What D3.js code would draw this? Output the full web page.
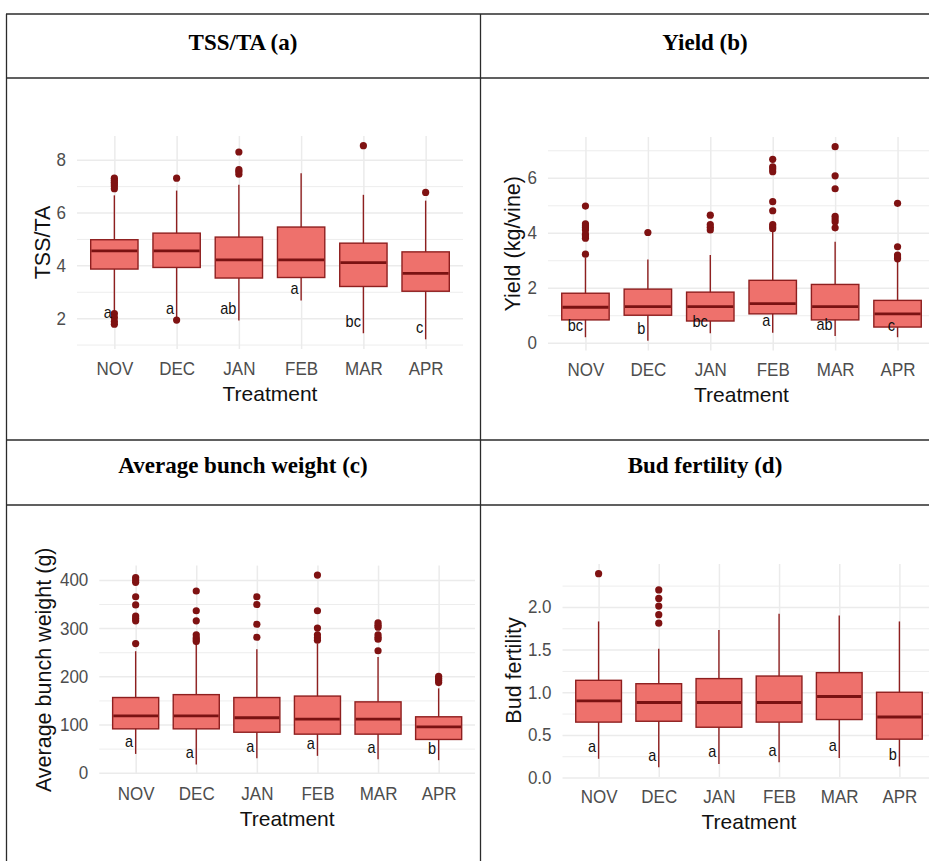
<!DOCTYPE html>
<html><head><meta charset="utf-8">
<script src="https://cdn.jsdelivr.net/npm/d3@7"></script>
<style>body{margin:0;background:#fff}svg{display:block}
.stretch{transform-box:fill-box;transform-origin:center;transform:scaleY(1.1)}</style>
</head><body>
<svg id="c" width="929" height="861"></svg>
<script>
// ---------- DATA ----------
const categories = ["NOV", "DEC", "JAN", "FEB", "MAR", "APR"];
const panelTitles = ["TSS/TA (a)", "Yield (b)", "Average bunch weight (c)", "Bud fertility (d)"];
const yLabels = ["TSS/TA", "Yield (kg/vine)", "Average bunch weight (g)", "Bud fertility"];
const xLabel = "Treatment";

// (a) TSS/TA
const tssLow  = [2.25, 2.0, 1.91, 2.67, 1.43, 1.2];
const tssQ1   = [3.86, 3.92, 3.52, 3.54, 3.2, 3.02];
const tssMed  = [4.55, 4.55, 4.21, 4.21, 4.1, 3.7];
const tssQ3   = [4.97, 5.22, 5.07, 5.45, 4.84, 4.51];
const tssHigh = [6.65, 6.83, 7.05, 7.49, 6.67, 6.45];
const tssOut  = [[6.9, 7.0, 7.08, 7.15, 7.22, 7.3, 2.17, 2.02, 1.87, 1.77], [7.3, 1.93], [7.45, 7.55, 7.62, 8.29], [], [8.53], [6.76]];
const tssLetters = ["a", "a", "ab", "a", "bc", "c"];
const tssTicks = [2, 4, 6, 8];
const tssMinor = [1, 3, 5, 7];

// (b) Yield
const yldLow  = [0.2, 0.07, 0.34, 0.36, 0.24, 0.2];
const yldQ1   = [0.83, 1.0, 0.79, 1.05, 0.83, 0.57];
const yldMed  = [1.29, 1.31, 1.31, 1.42, 1.31, 1.05];
const yldQ3   = [1.80, 1.95, 1.84, 2.27, 2.12, 1.54];
const yldHigh = [3.1, 3.03, 3.19, 4.1, 3.67, 2.95];
const yldOut  = [[3.22, 3.8, 3.88, 3.95, 4.1, 4.18, 4.25, 4.32, 4.97], [4.01], [4.1, 4.2, 4.3, 4.64],
                 [4.15, 4.22, 4.3, 4.8, 5.13, 6.22, 6.32, 6.4, 6.67], [4.18, 4.4, 4.5, 4.6, 5.6, 6.07, 7.13], [3.05, 3.12, 3.19, 3.49, 5.07]];
const yldLetters = ["bc", "b", "bc", "a", "ab", "c"];
const yldTicks = [0, 2, 4, 6];
const yldMinor = [1, 3, 5, 7];

// (c) Average bunch weight
const abwLow  = [39, 17, 30, 35, 28, 26];
const abwQ1   = [91, 91, 84, 80, 80, 69];
const abwMed  = [118, 118, 114, 111, 111, 95];
const abwQ3   = [156, 162, 156, 159, 147, 116];
const abwHigh = [252, 265, 256, 268, 240, 175];
const abwOut  = [[268, 315, 320, 325, 348, 365, 395, 400, 405], [272, 276, 280, 286, 315, 336, 377], [281, 308, 349, 365],
                 [275, 280, 286, 300, 336, 410], [253, 277, 281, 286, 302, 306, 311], [187, 192, 196, 200]];
const abwLetters = ["a", "a", "a", "a", "a", "b"];
const abwTicks = [0, 100, 200, 300, 400];
const abwMinor = [50, 150, 250, 350];

// (d) Bud fertility
const bfLow  = [0.22, 0.12, 0.16, 0.18, 0.23, 0.13];
const bfQ1   = [0.65, 0.66, 0.59, 0.65, 0.68, 0.45];
const bfMed  = [0.90, 0.88, 0.88, 0.88, 0.95, 0.71];
const bfQ3   = [1.14, 1.10, 1.16, 1.19, 1.23, 1.00];
const bfHigh = [1.83, 1.51, 1.73, 1.92, 1.90, 1.83];
const bfOut  = [[2.39], [1.81, 1.91, 2.01, 2.10, 2.20], [], [], [], []];
const bfLetters = ["a", "a", "a", "a", "a", "b"];
const bfTicks = [0, 0.5, 1.0, 1.5, 2.0];
const bfMinor = [0.25, 0.75, 1.25, 1.75, 2.25];

// ---------- LAYOUT ----------
const panels = [
  {low: tssLow, q1: tssQ1, med: tssMed, q3: tssQ3, high: tssHigh, out: tssOut, letters: tssLetters, ticks: tssTicks, minor: tssMinor, fmt: d3.format("d"),
   title: panelTitles[0], ylab: yLabels[0], left: 77, right: 463, top: 136, bottom: 349, ylabX: 42, titleX: 243, titleY: 50},
  {low: yldLow, q1: yldQ1, med: yldMed, q3: yldQ3, high: yldHigh, out: yldOut, letters: yldLetters, ticks: yldTicks, minor: yldMinor, fmt: d3.format("d"),
   title: panelTitles[1], ylab: yLabels[1], left: 548, right: 935, top: 137, bottom: 350.5, ylabX: 512, titleX: 705, titleY: 50},
  {low: abwLow, q1: abwQ1, med: abwMed, q3: abwQ3, high: abwHigh, out: abwOut, letters: abwLetters, ticks: abwTicks, minor: abwMinor, fmt: d3.format("d"),
   title: panelTitles[2], ylab: yLabels[2], left: 99.3, right: 475, top: 565.6, bottom: 774, ylabX: 43, titleX: 243, titleY: 473},
  {low: bfLow, q1: bfQ1, med: bfMed, q3: bfQ3, high: bfHigh, out: bfOut, letters: bfLetters, ticks: bfTicks, minor: bfMinor, fmt: d3.format(".1f"),
   title: panelTitles[3], ylab: yLabels[3], left: 562.5, right: 935.5, top: 564, bottom: 777, ylabX: 513, titleX: 705, titleY: 473}
];

const FILL = "#EE716C", LINE = "#8E1F1F", MED = "#7A1212", PT = "#7F1212", GRID = "#EBEBEB";
const SANS = "'Liberation Sans', Arial, sans-serif";
const svg = d3.select("#c");

// table frame
const frame = svg.append("g").attr("stroke", "#2b2b2b").attr("stroke-width", 1.3);
[14, 78, 440, 505].forEach(yy => frame.append("line").attr("x1", 6).attr("x2", 929).attr("y1", yy).attr("y2", yy));
[6.5, 480.5].forEach(xx => frame.append("line").attr("x1", xx).attr("x2", xx).attr("y1", 14).attr("y2", 861));

function drawPanel(p) {
  const vals = [...p.low, ...p.high, ...p.out.flat()];
  const [mn, mx] = d3.extent(vals);
  const pad = (mx - mn) * 0.05;
  const y = d3.scaleLinear().domain([mn - pad, mx + pad]).range([p.bottom, p.top]);
  const x = d3.scalePoint().domain(categories).range([p.left, p.right]).padding(0.6);
  const bw = x.step() * 0.76;
  const g = svg.append("g");
  const W = p.right - p.left, H = p.bottom - p.top;

  // header title
  svg.append("text").attr("x", p.titleX).attr("y", p.titleY).attr("text-anchor", "middle")
    .attr("font-family", "'Liberation Serif', 'Times New Roman', serif").attr("font-weight", "bold")
    .attr("font-size", 23).attr("fill", "#000").text(p.title);

  // minor grid
  const gm = g.append("g").attr("transform", `translate(${p.left},0)`)
    .call(d3.axisLeft(y).tickValues(p.minor.filter(v => y(v) >= p.top && y(v) <= p.bottom)).tickSize(-W).tickFormat(""));
  gm.select(".domain").remove();
  gm.selectAll("line").attr("stroke", GRID).attr("stroke-width", 0.9);
  // major grid + labels
  const ga = g.append("g").attr("transform", `translate(${p.left},0)`)
    .call(d3.axisLeft(y).tickValues(p.ticks).tickSize(-W).tickPadding(11).tickFormat(p.fmt));
  ga.select(".domain").remove();
  ga.selectAll("line").attr("stroke", GRID).attr("stroke-width", 1.5);
  ga.selectAll("text").attr("class", "stretch").attr("font-family", SANS).attr("font-size", 17).attr("fill", "#4D4D4D");
  // vertical grid + x labels
  const gx = g.append("g").attr("transform", `translate(0,${p.bottom})`)
    .call(d3.axisBottom(x).tickSize(H).tickPadding(13));
  gx.select(".domain").remove();
  gx.selectAll(".tick line").attr("stroke", GRID).attr("stroke-width", 1.5).attr("y2", -H);
  gx.selectAll("text").attr("class", "stretch").attr("y", 13).attr("font-family", SANS).attr("font-size", 17).attr("fill", "#4D4D4D");

  // axis titles
  g.append("text").attr("transform", `translate(${p.ylabX + 7.6},${(p.top + p.bottom) / 2}) rotate(-90)`)
    .attr("text-anchor", "middle").attr("font-family", SANS).attr("font-size", 21.5).attr("fill", "#111").text(p.ylab);
  g.append("text").attr("x", (p.left + p.right) / 2).attr("y", p.bottom + 51.5).attr("text-anchor", "middle")
    .attr("font-family", SANS).attr("font-size", 21).attr("fill", "#111").text(xLabel);

  const idx = d3.range(categories.length);
  // whiskers
  g.selectAll(".wh").data(idx).join("line")
    .attr("x1", i => x(categories[i])).attr("x2", i => x(categories[i]))
    .attr("y1", i => y(p.low[i])).attr("y2", i => y(p.high[i]))
    .attr("stroke", LINE).attr("stroke-width", 1.4);
  // boxes
  g.selectAll(".bx").data(idx).join("rect")
    .attr("x", i => x(categories[i]) - bw / 2).attr("width", bw)
    .attr("y", i => y(p.q3[i])).attr("height", i => y(p.q1[i]) - y(p.q3[i]))
    .attr("fill", FILL).attr("stroke", LINE).attr("stroke-width", 1.4);
  // medians
  g.selectAll(".md").data(idx).join("line")
    .attr("x1", i => x(categories[i]) - bw / 2 + 0.7).attr("x2", i => x(categories[i]) + bw / 2 - 0.7)
    .attr("y1", i => y(p.med[i])).attr("y2", i => y(p.med[i]))
    .attr("stroke", MED).attr("stroke-width", 2.8);
  // outliers
  const pts = idx.flatMap(i => p.out[i].map(v => ({c: categories[i], v})));
  g.selectAll(".pt").data(pts).join("circle")
    .attr("cx", d => x(d.c)).attr("cy", d => y(d.v)).attr("r", 3.6).attr("fill", PT);
  // letters
  g.selectAll(".lt").data(idx).join("text")
    .attr("class", "stretch")
    .attr("x", i => x(categories[i]) - 2.5)
    .attr("y", i => y(d3.min([p.low[i], ...p.out[i]])) - 7)
    .attr("text-anchor", "end").attr("font-family", SANS).attr("font-size", 14.5).attr("fill", "#111")
    .text(i => p.letters[i]);
}
panels.forEach(drawPanel);
</script>
</body></html>
